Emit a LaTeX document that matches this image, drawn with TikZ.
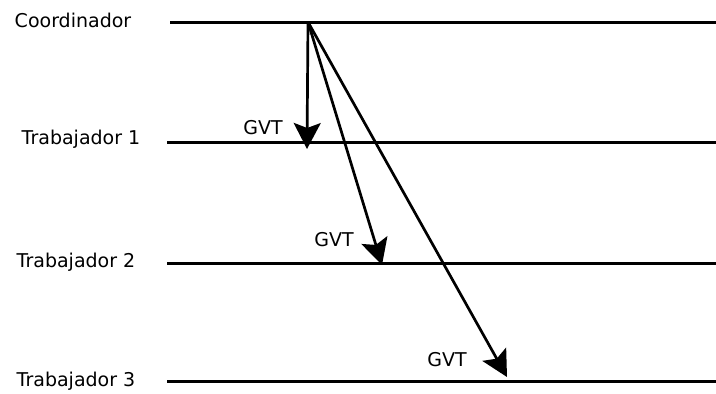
\documentclass[tikz,border=0pt]{standalone}
\usepackage{fontspec}
\setmainfont{DejaVu Sans}
\usetikzlibrary{arrows.meta}
\begin{document}
\begin{tikzpicture}[x=1pt,y=-1pt,
  lifeline/.style={line width=3pt},
  msg/.style={line width=2.7pt,-{Stealth[length=26pt,width=27pt,inset=5pt]}},
  lbl/.style={font=\fontsize{19}{22}\selectfont,inner sep=0pt}]
\useasboundingbox (0,0) rectangle (716,394);
% lifelines
\coordinate (c0) at (170,22); \coordinate (c1) at (716,22);
\coordinate (t1a) at (167,142); \coordinate (t1b) at (716,142);
\coordinate (t2a) at (167,263); \coordinate (t2b) at (716,263);
\coordinate (t3a) at (167,381); \coordinate (t3b) at (716,381);
\draw[lifeline] (c0) -- (c1);
\draw[lifeline] (t1a) -- (t1b);
\draw[lifeline] (t2a) -- (t2b);
\draw[lifeline] (t3a) -- (t3b);
% labels
\node[lbl] (lc) at (73,20) {Coordinador};
\node[lbl] (l1) at (81,139) {Trabajador 1};
\node[lbl] (l2) at (76,262) {Trabajador 2};
\node[lbl] (l3) at (76,381) {Trabajador 3};
% messages
\coordinate (src) at (308,22);
\coordinate (e1) at (307,149);
\coordinate (e2) at (382,265);
\coordinate (e3) at (507,377);
\draw[msg] (src) -- (e1);
\draw[msg] (src) -- (e2);
\draw[msg] (src) -- (e3);
\node[lbl] (g1) at (263,128) {GVT};
\node[lbl] (g2) at (334,240) {GVT};
\node[lbl] (g3) at (447,360) {GVT};
\end{tikzpicture}
\end{document}
